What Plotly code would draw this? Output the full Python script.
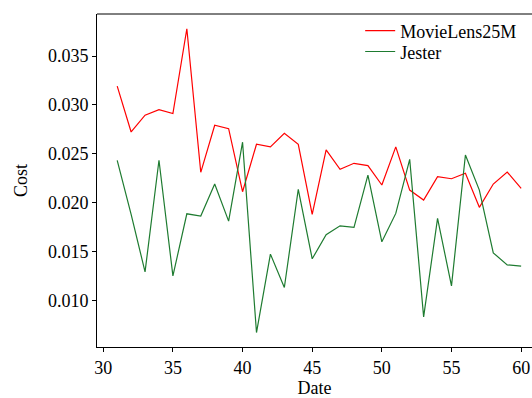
import plotly.graph_objects as go

dates = list(range(31, 61))
movielens = [0.03192, 0.02723, 0.02895, 0.02952, 0.02911, 0.0378, 0.0231, 0.02792, 0.02757, 0.02111,
             0.02597, 0.0257, 0.0271, 0.02597, 0.01879, 0.02539, 0.02341, 0.02402, 0.02378, 0.0218,
             0.0257, 0.02128, 0.02026, 0.02265, 0.02244, 0.023, 0.01951, 0.0219, 0.02313, 0.02146]
jester = [0.02433, 0.0188, 0.0129, 0.02433, 0.01249, 0.01885, 0.01862, 0.0219, 0.0181, 0.02618,
          0.00669, 0.01472, 0.0113, 0.02136, 0.01424, 0.0167, 0.01762, 0.01746, 0.02282, 0.01598,
          0.01889, 0.02443, 0.00829, 0.01838, 0.01147, 0.02487, 0.02128, 0.01485, 0.01362, 0.01349]
x_ticks = [30, 35, 40, 45, 50, 55, 60]
y_ticks = [0.010, 0.015, 0.020, 0.025, 0.030, 0.035]

FONT = "Liberation Serif"
FS = 18

fig = go.Figure()
fig.add_trace(go.Scatter(x=dates, y=movielens, mode="lines", name="MovieLens25M",
                         line=dict(color="#ff0000", width=1.2), legend="legend"))
fig.add_trace(go.Scatter(x=dates, y=jester, mode="lines", name="Jester",
                         line=dict(color="#1e7b30", width=1.2), legend="legend2"))

leg = dict(xanchor="left", yanchor="top", bgcolor="rgba(0,0,0,0)",
           font=dict(family=FONT, size=FS), itemwidth=30)

fig.update_layout(
    width=532, height=398,
    margin=dict(l=97, r=0, t=14, b=51),
    paper_bgcolor="white", plot_bgcolor="white",
    font=dict(family=FONT, size=FS, color="black"),
    showlegend=True,
    legend=dict(x=0.605, y=1.005, **leg),
    legend2=dict(x=0.605, y=0.942, **leg),
    xaxis=dict(range=[29.55, 60.78], tickvals=x_ticks, ticktext=[str(v) for v in x_ticks],
               showgrid=False, zeroline=False, showline=True, linecolor="black", linewidth=1,
               ticks="outside", ticklen=4, tickcolor="black", automargin=False,
               title=dict(text="Date", standoff=10, font=dict(family=FONT, size=FS))),
    yaxis=dict(range=[0.00521, 0.03931], tickvals=y_ticks, ticktext=[f"{v:.3f}" for v in y_ticks],
               showgrid=False, zeroline=False, showline=True, linecolor="black", linewidth=1,
               ticks="outside", ticklen=4, tickcolor="black", automargin=False,
               title=dict(text="Cost", standoff=15, font=dict(family=FONT, size=FS))),
    shapes=[dict(type="line", xref="paper", yref="paper", x0=0, x1=1, y0=1, y1=1,
                 line=dict(color="black", width=1))],
)

fig.write_html("out.html", config={"displayModeBar": False},
               post_script="document.body.style.margin='0';")
